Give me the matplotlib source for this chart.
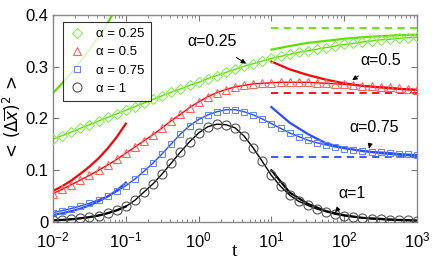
import numpy as np
import matplotlib
matplotlib.use("Agg")
import matplotlib.pyplot as plt
from matplotlib.ticker import FuncFormatter, LogLocator, NullFormatter

# ---------------- data ----------------
logt_sim = [-2.000, -1.875, -1.750, -1.625, -1.500, -1.375, -1.250, -1.125, -1.000,
            -0.875, -0.750, -0.625, -0.500, -0.375, -0.250, -0.125, 0.000, 0.125,
            0.250, 0.375, 0.500, 0.625, 0.750, 0.875, 1.000, 1.125, 1.250, 1.375,
            1.500, 1.625, 1.750, 1.875, 2.000, 2.125, 2.250, 2.375, 2.500, 2.625,
            2.750, 2.875, 3.000]

y_a025 = [0.160, 0.167, 0.174, 0.181, 0.188, 0.195, 0.202, 0.209, 0.216, 0.223, 0.230,
          0.237, 0.244, 0.251, 0.257, 0.264, 0.270, 0.277, 0.283, 0.289, 0.295, 0.301,
          0.306, 0.311, 0.316, 0.320, 0.324, 0.328, 0.331, 0.334, 0.337, 0.340, 0.343,
          0.345, 0.348, 0.350, 0.352, 0.353, 0.355, 0.356, 0.357]
y_a050 = [0.055, 0.063, 0.072, 0.081, 0.090, 0.100, 0.110, 0.121, 0.133, 0.145, 0.157,
          0.169, 0.182, 0.196, 0.208, 0.221, 0.232, 0.242, 0.250, 0.256, 0.261, 0.264,
          0.267, 0.268, 0.269, 0.270, 0.270, 0.270, 0.270, 0.269, 0.268, 0.267, 0.266,
          0.265, 0.263, 0.262, 0.261, 0.260, 0.258, 0.257, 0.256]
y_a075 = [0.018, 0.022, 0.026, 0.031, 0.036, 0.043, 0.050, 0.059, 0.070, 0.083, 0.098,
          0.114, 0.132, 0.151, 0.170, 0.186, 0.198, 0.207, 0.213, 0.217, 0.217, 0.213,
          0.207, 0.199, 0.190, 0.181, 0.172, 0.165, 0.158, 0.153, 0.149, 0.145, 0.142,
          0.140, 0.138, 0.136, 0.135, 0.134, 0.132, 0.131, 0.130]
y_a100 = [0.003, 0.004, 0.005, 0.007, 0.009, 0.012, 0.017, 0.023, 0.030, 0.042, 0.058,
          0.074, 0.093, 0.114, 0.135, 0.155, 0.172, 0.184, 0.189, 0.188, 0.182, 0.166,
          0.143, 0.117, 0.090, 0.069, 0.052, 0.040, 0.032, 0.025, 0.020, 0.015, 0.012,
          0.010, 0.008, 0.006, 0.005, 0.004, 0.003, 0.003, 0.002]

# short-time asymptotes
logt_short = [-2.000, -1.875, -1.750, -1.625, -1.500, -1.375, -1.250, -1.125, -1.000]
short_a025 = [0.249, 0.268, 0.288, 0.310, 0.333, 0.358, 0.385, 0.414, 0.445]
short_a050 = [0.060, 0.069, 0.080, 0.093, 0.107, 0.123, 0.142, 0.164, 0.190]
short_a075 = [0.0135, 0.0168, 0.0208, 0.0258, 0.032, 0.040, 0.049, 0.061, 0.076]
short_a100 = [0.003, 0.004, 0.0053, 0.0071, 0.0095, 0.0126, 0.017, 0.0225, 0.030]

# long-time asymptotes
logt_long = [1.00, 1.25, 1.50, 1.75, 2.00, 2.25, 2.50, 2.75, 3.00]
long_a025 = [0.333, 0.340, 0.346, 0.350, 0.354, 0.357, 0.359, 0.361, 0.362]
long_a050 = [0.310, 0.295, 0.284, 0.275, 0.268, 0.263, 0.260, 0.257, 0.255]
long_a075 = [0.222, 0.192, 0.170, 0.152, 0.143, 0.137, 0.133, 0.130, 0.128]
long_a100 = [0.100, 0.057, 0.035, 0.021, 0.013, 0.008, 0.006, 0.004, 0.003]

# stationary limits (dashed)
t_stat = [10, 1000]
stat_a025 = 0.3755
stat_a050 = 0.250
stat_a075 = 0.125

labels = ["α = 0.25", "α = 0.5", "α = 0.75", "α = 1"]
ann_text = ["α=0.25", "α=0.5", "α=0.75", "α=1"]
ann_text_xy = [(1.53, 0.348), (320, 0.313), (256, 0.182), (128, 0.056)]
ann_tip_xy = [(4.48, 0.306), (129, 0.274), (219, 0.142), (75, 0.019)]

# ---------------- style ----------------
plt.rcParams['font.family'] = ['Liberation Sans', 'DejaVu Sans']
plt.rcParams['mathtext.fontset'] = 'dejavusans'

line_cols = ["#5ee000", "#ff0000", "#2a4dff", "#000000"]
mark_cols = ["#88ee55", "#ff6060", "#6688ff", "#555555"]
markers = ["D", "^", "s", "o"]
msizes = [5.0, 5.5, 5.0, 6.5]

fig = plt.figure(figsize=(4.36, 2.62), dpi=100)
ax = fig.add_axes([0.1216, 0.1527, 0.8349, 0.7901])

t_sim = 10 ** np.array(logt_sim)
t_short = 10 ** np.array(logt_short)
t_long = 10 ** np.array(logt_long)

sims = [y_a025, y_a050, y_a075, y_a100]
shorts = [short_a025, short_a050, short_a075, short_a100]
longs = [long_a025, long_a050, long_a075, long_a100]
stats = [stat_a025, stat_a050, stat_a075, None]

handles = []
for i in range(4):
    ax.plot(t_sim, sims[i], color=line_cols[i], lw=1.0, zorder=2)
    h, = ax.plot(t_sim, sims[i], linestyle='none', marker=markers[i],
                 markersize=msizes[i], markerfacecolor='none',
                 markeredgecolor=mark_cols[i], markeredgewidth=0.8, zorder=3)
    handles.append(h)
    ax.plot(t_short, shorts[i], color=line_cols[i], lw=1.6, zorder=2)
    ax.plot(t_long, longs[i], color=line_cols[i], lw=1.6, zorder=2)
    if stats[i] is not None:
        ax.plot(t_stat, [stats[i], stats[i]], color=line_cols[i], lw=1.3,
                dashes=(4, 3), zorder=2)

for txt, xy_t, xy_tip in zip(ann_text, ann_text_xy, ann_tip_xy):
    ax.annotate(txt, xy=xy_tip, xytext=xy_t, textcoords='data',
                ha='center', va='center', fontsize=11.5,
                arrowprops=dict(arrowstyle='-|>', color='black', lw=0.7,
                                mutation_scale=7, shrinkA=7, shrinkB=0))

ax.set_xscale('log')
ax.set_xlim(1e-2, 1e3)
ax.set_ylim(0, 0.4)
ax.set_yticks([0, 0.1, 0.2, 0.3, 0.4])
ax.yaxis.set_major_formatter(FuncFormatter(lambda v, p: '0' if abs(v) < 1e-9 else f'{v:.1f}'))
ax.xaxis.set_major_locator(LogLocator(base=10, numticks=10))
ax.xaxis.set_minor_locator(LogLocator(base=10, subs=np.arange(2, 10), numticks=20))
ax.xaxis.set_minor_formatter(NullFormatter())

ax.tick_params(which='both', direction='in', top=True, right=True, colors='#777777',
               labelcolor='black', labelsize=12)
ax.tick_params(which='major', length=4, width=0.8)
ax.tick_params(which='minor', length=2, width=0.6)
ax.tick_params(axis='x', pad=6)
ax.tick_params(axis='y', pad=3)
for s in ax.spines.values():
    s.set_color('#888888')
    s.set_linewidth(1.0)

ax.set_xlabel('t', family=['Liberation Serif', 'DejaVu Serif'], fontsize=14, labelpad=-5)
ax.set_ylabel(r'$<\,(\Delta\overline{x})^2\,>$', fontsize=12, labelpad=2)

leg = ax.legend(handles, labels, loc='upper left', bbox_to_anchor=(0.027, 0.966),
                borderaxespad=0, fontsize=9.5, frameon=True, fancybox=False,
                handletextpad=0.8, handlelength=1.3, borderpad=0.45, labelspacing=0.45)
leg.get_frame().set_edgecolor('black')
leg.get_frame().set_linewidth(0.8)

fig.savefig('out.png', dpi=100)
